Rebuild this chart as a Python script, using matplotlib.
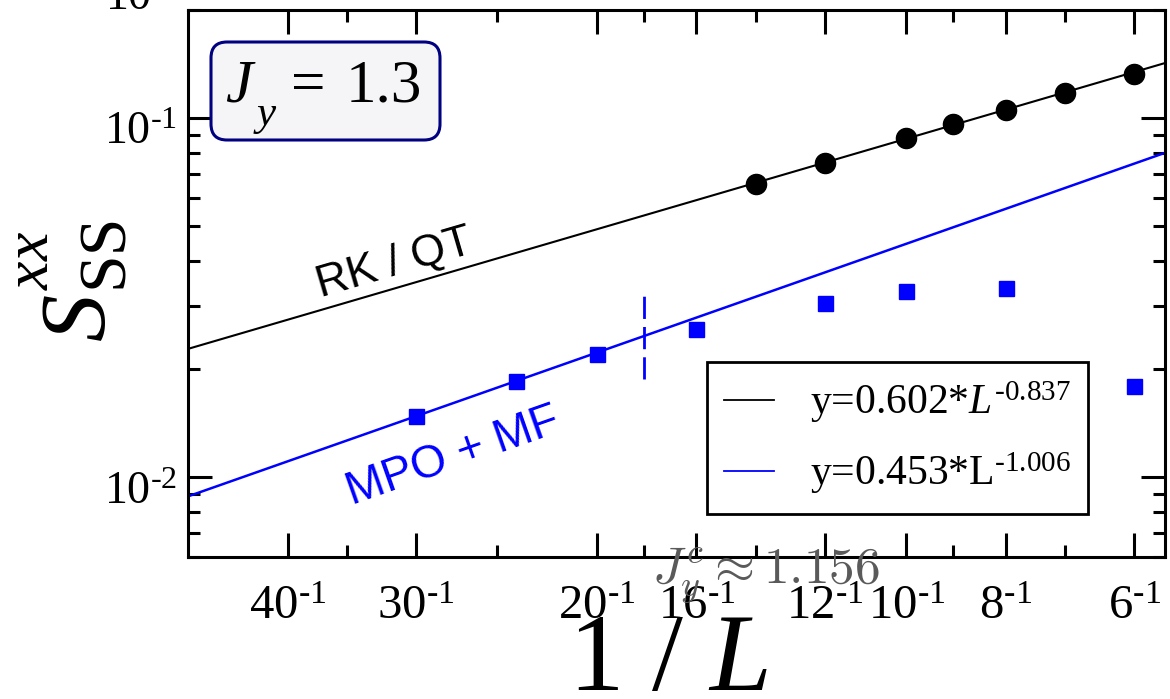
import numpy as np
import matplotlib
matplotlib.use("Agg")
import matplotlib.pyplot as plt
from matplotlib.lines import Line2D
from matplotlib.patches import FancyBboxPatch
from matplotlib.ticker import FixedLocator, FixedFormatter, NullFormatter
from matplotlib.transforms import ScaledTranslation

# finite-size data: system size L and structure factor S_SS^xx
L_rk = [14, 12, 10, 9, 8, 7, 6]
S_rk = [0.0655, 0.0750, 0.0878, 0.0960, 0.1052, 0.1175, 0.1330]
L_mpo = [30, 24, 20, 16, 12, 10, 8, 6]
S_mpo = [0.0148, 0.0186, 0.0220, 0.0258, 0.0306, 0.0331, 0.0337, 0.0179]

# power-law fits S = a * L^(-b)
fit_rk = (0.602, 0.837)
fit_mpo = (0.453, 1.006)

# tick sizes (shown as 1/L)
L_major = [40, 30, 20, 16, 12, 10, 8, 6]
L_minor = [35, 25, 18, 14, 9, 7]

# critical-size marker
L_crit = 18
crit_span = (0.0188, 0.0327)

plt.rcParams['font.family'] = ['Liberation Serif', 'DejaVu Serif']
plt.rcParams['mathtext.fontset'] = 'custom'
plt.rcParams['mathtext.rm'] = 'Liberation Serif'
plt.rcParams['mathtext.it'] = 'Liberation Serif:italic'
plt.rcParams['mathtext.bf'] = 'Liberation Serif:bold'

W, H = 11.7, 6.99
PX_W, PX_H = 1170, 699
fig = plt.figure(figsize=(W, H), dpi=100)
ax = fig.add_axes([188 / PX_W, 1 - 557 / PX_H, 977 / PX_W, 547 / PX_H])
ax.set_xscale('log')
ax.set_yscale('log')
xlim = (1 / 50, 1 / 5.6)
ax.set_xlim(*xlim)
ax.set_ylim(0.006, 0.2)


def fx(px):
    return px / PX_W


def fy(py):
    return 1 - py / PX_H


# fit lines across the full range
xs = np.geomspace(xlim[0], xlim[1], 200)
ax.plot(xs, fit_rk[0] * xs ** fit_rk[1], color='black', lw=1.5, zorder=2)
ax.plot(xs, fit_mpo[0] * xs ** fit_mpo[1], color='#0000ff', lw=1.8, zorder=2)

# data points
ax.plot(1 / np.array(L_rk), S_rk, 'o', color='black', ms=14.5, zorder=3)
ax.plot(1 / np.array(L_mpo), S_mpo, 's', color='#0000ff', ms=10.8, zorder=3)

# dashed marker at the critical size
ax.plot([1 / L_crit, 1 / L_crit], crit_span, color='#0000ff', lw=2.0,
        linestyle=(0, (8, 2.9)), zorder=2)

# axes styling
for sp in ax.spines.values():
    sp.set_linewidth(2.2)
sup = r'$%d^{\text{-}1}$'
ax.xaxis.set_major_locator(FixedLocator([1 / l for l in L_major]))
ax.xaxis.set_major_formatter(FixedFormatter([sup % l for l in L_major]))
ax.xaxis.set_minor_locator(FixedLocator([1 / l for l in L_minor]))
ax.xaxis.set_minor_formatter(NullFormatter())
ax.yaxis.set_major_locator(FixedLocator([0.01, 0.1]))
ax.yaxis.set_major_formatter(FixedFormatter([r'$10^{\text{-}2}$', r'$10^{\text{-}1}$']))
ymin_ticks = [k * 1e-3 for k in range(6, 10)] + [k * 1e-2 for k in range(2, 10)] + [0.2]
ax.yaxis.set_minor_locator(FixedLocator(ymin_ticks))
ax.yaxis.set_minor_formatter(NullFormatter())
ax.tick_params(which='both', direction='in', top=True, right=True, width=2.2)
ax.tick_params(which='major', length=17)
ax.tick_params(which='minor', length=8.5)
ax.tick_params(axis='x', which='major', labelsize=35, pad=20)
ax.tick_params(axis='y', which='major', labelsize=33, pad=8)
shift = ScaledTranslation(0, -0.10, fig.dpi_scale_trans)
for lab in ax.get_yticklabels():
    lab.set_transform(lab.get_transform() + shift)

# x-axis label
fig.text(fx(668), fy(690), r'1 / $L$', fontsize=80, ha='center', va='baseline')

# y-axis label S_SS^xx, built from its parts
ykw = dict(rotation=90, rotation_mode='anchor', ha='left', va='baseline')
fig.text(fx(105), fy(342), r'$S$', fontsize=68, **ykw)
fig.text(fx(122), fy(288), 'SS', fontsize=49, **ykw)
fig.text(fx(48), fy(290), r'$xx$', fontsize=46, **ykw)

# partially visible label at the top
fig.text(fx(105), fy(10), r'$10^{0}$', fontsize=33, ha='left', va='baseline')

# method annotations
ax.text(0.03178, 0.0392, 'RK / QT', fontsize=32, family='Liberation Sans',
        rotation=16.3, ha='center', va='center', color='black')
ax.text(0.03626, 0.01144, 'MPO + MF', fontsize=33, family='Liberation Sans',
        rotation=19.4, ha='center', va='center', color='#0000ff')

# parameter box
box = FancyBboxPatch((2.11, (699 - 140) / 100), 2.29, 0.98,
                     boxstyle='round,pad=0,rounding_size=0.16',
                     transform=fig.dpi_scale_trans, facecolor='#f5f5f8',
                     edgecolor='#000080', linewidth=2.2, zorder=5, clip_on=False)
ax.add_patch(box)
fig.text(fx(225), fy(102), r'$J$', fontsize=44, ha='left', va='baseline', zorder=6)
fig.text(fx(253), fy(125), r'$y$', fontsize=31, ha='left', va='baseline', zorder=6)
fig.text(fx(291), fy(102), '=', fontsize=44, ha='left', va='baseline', zorder=6)
fig.text(fx(346), fy(102), '1.3', fontsize=44, ha='left', va='baseline', zorder=6)

# critical coupling note
fig.text(fx(652), fy(583), r'$J_y^c \approx 1.156$', fontsize=37,
         math_fontfamily='cm', color='#5a5a5a', ha='left', va='baseline', zorder=10)

# legend
handles = [Line2D([], [], color='black', lw=1.3), Line2D([], [], color='#0000ff', lw=1.3)]
labels = [r'y=0.602*$L^{\text{-}0.837}$', r'y=0.453*L$^{\text{-}1.006}$']
leg = ax.legend(handles, labels, loc='upper left', bbox_to_anchor=(0.531, 0.3565),
                borderaxespad=0, fontsize=30, frameon=True, fancybox=False,
                edgecolor='black', framealpha=1, handlelength=1.2,
                handletextpad=0.85, borderpad=0.42, labelspacing=0.6)
leg.get_frame().set_linewidth(2.0)

fig.savefig('out.png', dpi=100)
